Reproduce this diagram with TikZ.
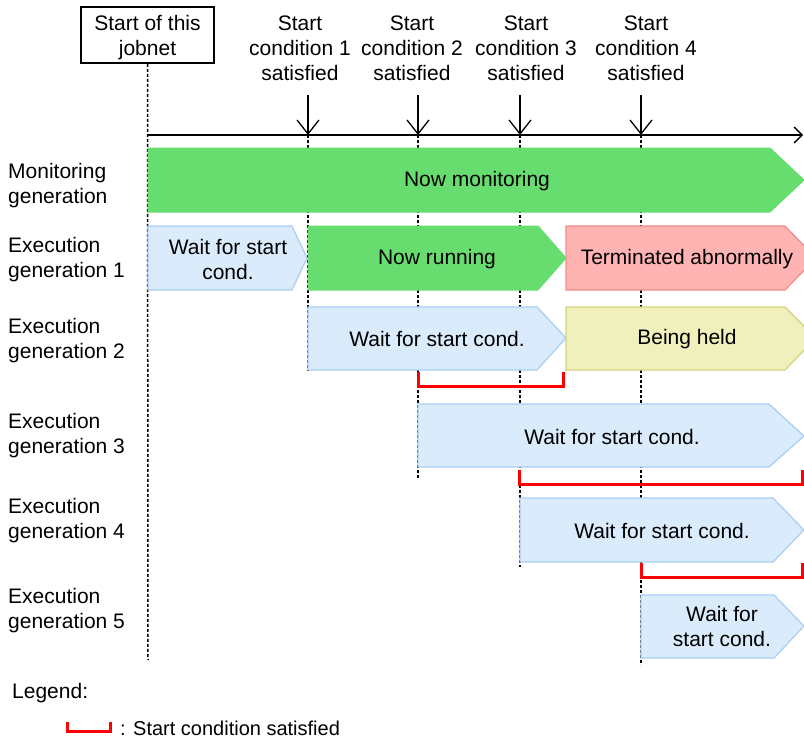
\documentclass[tikz,border=0pt]{standalone}
\usepackage{fontspec}
\setmainfont{Liberation Sans}
\usetikzlibrary{arrows.meta}
\definecolor{mgreen}{HTML}{66DD6E}
\definecolor{wblue}{HTML}{DAEBFC}
\definecolor{wblueb}{HTML}{A8CEF5}
\definecolor{tpink}{HTML}{FFB3B3}
\definecolor{tpinkb}{HTML}{F08C8C}
\definecolor{hyell}{HTML}{F0F0BC}
\definecolor{hyellb}{HTML}{D2D27E}
\begin{document}
\begin{tikzpicture}[x=1pt,y=-1pt,
  txt/.style={inner sep=0pt,align=center,font=\fontsize{21}{25}\selectfont},
  lbl/.style={txt,align=left,anchor=west},
  guide/.style={black,line width=1.5pt,dash pattern=on 3pt off 2pt},
  evarrow/.style={black,line width=1.3pt,-{Straight Barb[length=14pt,width=22pt,line width=1.3pt]}},
  axisline/.style={black,line width=1.3pt,-{Straight Barb[length=8pt,width=16pt,line width=1.3pt]}},
  monbox/.style={fill=mgreen,draw=mgreen,line width=1pt},
  waitbox/.style={fill=wblue,draw=wblueb,line width=1.2pt},
  termbox/.style={fill=tpink,draw=tpinkb,line width=1.2pt},
  heldbox/.style={fill=hyell,draw=hyellb,line width=1.2pt},
  bracket/.style={red,line width=3pt}]
\useasboundingbox (0,0) rectangle (804,740);

% top labels
\node[draw,line width=1.5pt,minimum width=133pt,minimum height=56pt,inner sep=0pt] (start) at (147.5,35) {};
\node[txt] (starttxt) at (147.5,38) {Start of this\\jobnet};
\node[txt] (c1) at (300,48) {Start\\condition 1\\satisfied};
\node[txt] (c2) at (412,48) {Start\\condition 2\\satisfied};
\node[txt] (c3) at (526,48) {Start\\condition 3\\satisfied};
\node[txt] (c4) at (646,48) {Start\\condition 4\\satisfied};

% coordinates on the axis
\coordinate (a0) at (148,135);
\coordinate (a1) at (308,135);
\coordinate (a2) at (418,135);
\coordinate (a3) at (520,135);
\coordinate (a4) at (641,135);
\coordinate (aend) at (803,135);
\coordinate (t1) at (308,95);
\coordinate (t2) at (418,95);
\coordinate (t3) at (520,95);
\coordinate (t4) at (641,95);

% guide ends
\coordinate (g0) at (148,660);
\coordinate (g1) at (308,371);
\coordinate (g2) at (418,479);
\coordinate (g3) at (520,567);
\coordinate (g4) at (641,665);

% guides (behind bars)
\draw[guide] (start.south) -- (g0);
\draw[guide] (a1) -- (g1);
\draw[guide] (a2) -- (g2);
\draw[guide] (a3) -- (g3);
\draw[guide] (a4) -- (g4);

% bars
\path[monbox] (148,148) -- (770,148) -- (804,180) -- (770,212) -- (148,212) -- cycle;
\path[waitbox] (148,226) -- (292,226) -- (307,258) -- (292,290) -- (148,290) -- cycle;
\path[monbox] (308,226) -- (538,226) -- (566,258) -- (538,290) -- (308,290) -- cycle;
\path[termbox] (566,226) -- (785,226) -- (816,258) -- (785,290) -- (566,290) -- cycle;
\path[waitbox] (308,307) -- (537,307) -- (566,338) -- (537,370) -- (308,370) -- cycle;
\path[heldbox] (566,307) -- (785,307) -- (816,338) -- (785,370) -- (566,370) -- cycle;
\path[waitbox] (418,404) -- (769,404) -- (804,436) -- (769,467) -- (418,467) -- cycle;
\path[waitbox] (520,498) -- (773,498) -- (804,530) -- (773,562) -- (520,562) -- cycle;
\path[waitbox] (641,595) -- (774,595) -- (804,626) -- (774,658) -- (641,658) -- cycle;

% axis and events
\draw[axisline] (a0) -- (aend);
\draw[evarrow] (t1) -- (a1);
\draw[evarrow] (t2) -- (a2);
\draw[evarrow] (t3) -- (a3);
\draw[evarrow] (t4) -- (a4);

% bar texts
\node[txt] (mon) at (477,181) {Now monitoring};
\node[txt] (w1) at (228,259) {Wait for start\\cond.};
\node[txt] (run) at (437,259) {Now running};
\node[txt] (term) at (687,259) {Terminated abnormally};
\node[txt] (w2) at (437,339) {Wait for start cond.};
\node[txt] (held) at (687,339) {Being held};
\node[txt] (w3) at (612,437) {Wait for start cond.};
\node[txt] (w4) at (662,531) {Wait for start cond.};
\node[txt] (w5) at (722,626) {Wait for\\start cond.};

% brackets
\draw[bracket] (418,372) -- (418,386) -- (563,386) -- (563,372);
\draw[bracket] (519,470) -- (519,484) -- (802,484) -- (802,470);
\draw[bracket] (641,563) -- (641,577) -- (802,577) -- (802,563);

% row labels
\node[lbl] (rm) at (8,186) {Monitoring\\generation};
\node[lbl] (r1) at (8,260) {Execution\\generation 1};
\node[lbl] (r2) at (8,341) {Execution\\generation 2};
\node[lbl] (r3) at (8,436) {Execution\\generation 3};
\node[lbl] (r4) at (8,521) {Execution\\generation 4};
\node[lbl] (r5) at (8,611) {Execution\\generation 5};

% legend
\node[lbl] (leg) at (12,693) {Legend:};
\draw[bracket] (67,722) -- (67,731) -- (110,731) -- (110,722);
\node[lbl,font=\fontsize{20}{24}\selectfont] (legt) at (120,728) {: Start condition satisfied};
\end{tikzpicture}
\end{document}
